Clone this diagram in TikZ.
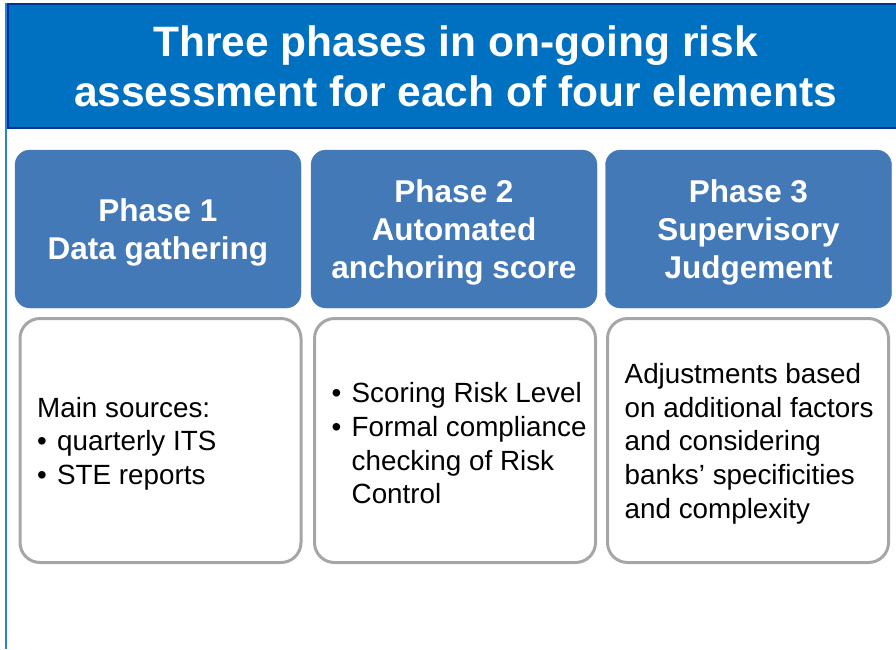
\documentclass[tikz,border=0pt]{standalone}
\usepackage{fontspec}
\setmainfont{Liberation Sans}
\usepackage{tikz}
\usetikzlibrary{positioning}
\definecolor{bannerblue}{RGB}{0,112,192}
\definecolor{bannerline}{RGB}{0,51,153}
\definecolor{phaseblue}{RGB}{68,121,184}
\definecolor{boxgray}{RGB}{166,166,166}
\definecolor{sideblue}{RGB}{40,130,220}
\tikzset{
	banner node/.style={rectangle,fill=bannerblue,draw=bannerline,line width=2pt,inner sep=0pt,
		minimum width=895pt,minimum height=124pt,text=white,align=center,
		font=\fontsize{42.5}{50}\selectfont\bfseries},
	phase node/.style={rectangle,rounded corners=15pt,fill=phaseblue,draw=phaseblue,inner sep=0pt,
		minimum width=286pt,minimum height=158pt,text=white,align=center,text depth=0pt,
		font=\fontsize{31.5}{38}\selectfont\bfseries},
	detail node/.style={rectangle,rounded corners=20pt,draw=boxgray,line width=3pt,
		minimum width=281pt,minimum height=244pt},
	detail text/.style={anchor=west,inner sep=0pt,align=left,yshift=-3pt,
		font=\fontsize{27.8}{33.7}\selectfont}
}
\newcommand{\bitem}{\makebox[20pt][l]{\textbullet}}
\newcommand{\bcont}{\hspace*{20pt}}

\begin{document}
\begin{tikzpicture}[x=1pt,y=-1pt]
	\useasboundingbox (0,0) rectangle (896,649);
	\draw [sideblue,line width=2pt] (6,3) -- (6,649);
	\node [banner node,anchor=north west] (banner) at (7,3)
		{Three phases in on-going risk\\assessment for each of four elements};
	% phase headers
	\node [phase node] (p1) at (158,229) {Phase 1\\Data gathering};
	\node [phase node] (p2) at (454,229) {Phase 2\\Automated\\anchoring score};
	\node [phase node] (p3) at (748.5,229) {Phase 3\\Supervisory\\Judgement};
	% detail boxes
	\node [detail node] (d1) at (160.5,440.5) {};
	\node [detail node] (d2) at (455,440.5) {};
	\node [detail node] (d3) at (748,440.5) {};
	\node [detail text] (t1) at ([xshift=18.5pt]d1.west)
		{Main sources:\\\bitem quarterly ITS\\\bitem STE reports};
	\node [detail text] (t2) at ([xshift=18.5pt]d2.west)
		{\bitem Scoring Risk Level\\\bitem Formal compliance\\\bcont checking of Risk\\\bcont Control};
	\node [detail text] (t3) at ([xshift=18.5pt]d3.west)
		{Adjustments based\\on additional factors\\and considering\\banks’ specificities\\and complexity};
\end{tikzpicture}
\end{document}
